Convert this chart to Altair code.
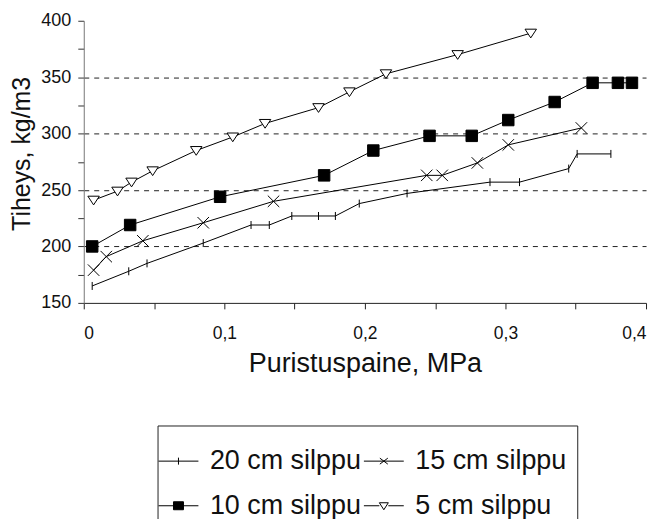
import altair as alt
import pandas as pd

FONT = "Liberation Sans"

series_names = ["20 cm silppu", "15 cm silppu", "10 cm silppu", "5 cm silppu"]

s20_x = [0.006, 0.032, 0.045, 0.085, 0.119, 0.132, 0.148, 0.167, 0.179, 0.196, 0.230, 0.289, 0.310, 0.345, 0.351, 0.375]
s20_y = [165, 178, 185, 203, 219, 219, 227, 227, 227, 238, 247, 257, 257, 269, 282, 282]

s15_x = [0.007, 0.016, 0.042, 0.085, 0.135, 0.244, 0.255, 0.280, 0.302, 0.354]
s15_y = [179, 191, 205, 221, 240, 263, 263, 274, 290, 305]

s10_x = [0.006, 0.033, 0.097, 0.171, 0.206, 0.246, 0.276, 0.302, 0.335, 0.362, 0.380, 0.390]
s10_y = [200, 219, 244, 263, 285, 298, 298, 312, 328, 345, 345, 345]

s5_x = [0.007, 0.024, 0.034, 0.049, 0.080, 0.106, 0.129, 0.167, 0.189, 0.215, 0.266, 0.318]
s5_y = [241, 249, 257, 267, 285, 297, 309, 323, 337, 353, 370, 389]

x_ticks = [0, 0.05, 0.1, 0.15, 0.2, 0.25, 0.3, 0.35, 0.4]
y_ticks = [150, 175, 200, 225, 250, 275, 300, 325, 350, 375, 400]

plot_shapes = [
    "M0,-0.8V0.8",
    "M-1.15,-1.15L1.15,1.15M-1.15,1.15L1.15,-1.15",
    "M-1.15,-1.15H1.15V1.15H-1.15Z",
    "M-1.15,-0.8L1.15,-0.8L0,0.95Z",
]
legend_shapes = [
    "M-4,0H4M0,-0.7V0.7",
    "M-4,0H4M-0.8,-0.6L0.8,0.6M-0.8,0.6L0.8,-0.6",
    "M-4,0H4M-1.0,-0.8H1.0V0.8H-1.0Z",
    "M-4,0H-0.9M0.9,0H4M-0.9,-0.6L0.9,-0.6L0,0.8Z",
]
fills = ["white", "white", "black", "white"]
strokes = ["black", "black", "black", "black"]

rows = []
for name, xs, ys in [
    (series_names[0], s20_x, s20_y),
    (series_names[1], s15_x, s15_y),
    (series_names[2], s10_x, s10_y),
    (series_names[3], s5_x, s5_y),
]:
    for i, (xv, yv) in enumerate(zip(xs, ys)):
        rows.append({"series": name, "p": xv, "d": yv, "order": i})
df = pd.DataFrame(rows)

x_label_expr = (
    "abs(datum.value*10 - round(datum.value*10)) < 0.001 ? "
    "(datum.value == 0 ? '0' : replace(format(datum.value, '.1f'), '.', ',')) : ''"
)

x_enc = alt.X(
    "p:Q",
    scale=alt.Scale(domain=[0, 0.4], nice=False, zero=False),
    title="Puristuspaine, MPa",
    axis=alt.Axis(
        values=x_ticks,
        labelExpr=x_label_expr,
        grid=False,
        domainColor="#222222",
        tickColor="#222222",
        tickSize=6,
        labelPadding=16,
        labelFont=FONT,
        labelFontSize=17.5,
        labelColor="#111111",
        labelOverlap=False,
        titleFont=FONT,
        titleFontSize=27,
        titleFontWeight="normal",
        titleColor="#111111",
        titlePadding=8,
    ),
)

y_enc = alt.Y(
    "d:Q",
    scale=alt.Scale(domain=[150, 400], nice=False, zero=False),
    title="Tiheys, kg/m3",
    axis=alt.Axis(
        values=y_ticks,
        labelExpr="datum.value % 50 == 0 ? datum.label : ''",
        grid=True,
        gridColor="#222222",
        gridDash=[5, 5],
        gridWidth=1,
        gridOpacity={
            "condition": {"test": "datum.value % 50 == 0 && datum.value > 150 && datum.value < 400", "value": 1},
            "value": 0,
        },
        domainColor="#777777",
        tickColor="#333333",
        tickSize=6,
        labelPadding=7,
        labelFont=FONT,
        labelFontSize=18,
        labelColor="#111111",
        labelOverlap=False,
        titleFont=FONT,
        titleFontSize=25,
        titleFontWeight="normal",
        titleColor="#111111",
        titleX=-49,
        titleY=133,
        titleBaseline="bottom",
    ),
)

lines = alt.Chart(df).mark_line(color="black", strokeWidth=1).encode(
    x=x_enc, y=y_enc, detail="series:N", order="order:Q"
)

points = alt.Chart(df).mark_point(
    opacity=1, stroke="black", strokeWidth=1, size=100
).encode(
    x=x_enc,
    y=y_enc,
    shape=alt.Shape("series:N", scale=alt.Scale(domain=series_names, range=plot_shapes), legend=None),
    fill=alt.Fill("series:N", scale=alt.Scale(domain=series_names, range=fills), legend=None),
)

legend_def = alt.Legend(
    title=" ",
    titleFontSize=6,
    titlePadding=6,
    orient="none",
    direction="horizontal",
    legendX=74,
    legendY=406,
    columns=2,
    strokeColor="#222222",
    padding=10,
    labelFont=FONT,
    labelFontSize=27,
    labelColor="#111111",
    symbolSize=100,
    symbolStrokeColor="black",
    symbolStrokeWidth=1,
    symbolOffset=-2.5,
    labelOffset=18,
    columnPadding=0,
    rowPadding=17,
)

legend_layer = alt.Chart(df).transform_filter("datum.d < 0").mark_point(
    opacity=1, strokeWidth=1, size=100
).encode(
    x=x_enc,
    y=y_enc,
    shape=alt.Shape("series:N", scale=alt.Scale(domain=series_names, range=legend_shapes), legend=legend_def),
    fill=alt.Fill("series:N", scale=alt.Scale(domain=series_names, range=fills), legend=legend_def),
    stroke=alt.Stroke("series:N", scale=alt.Scale(domain=series_names, range=strokes), legend=legend_def),
)

chart = (
    alt.layer(lines, points, legend_layer)
    .resolve_scale(shape="independent", fill="independent", stroke="independent")
    .properties(
        width=564,
        height=283,
        autosize="none",
        padding={"left": 76, "top": 12, "right": 8, "bottom": 216},
        background="white",
    )
    .configure_view(stroke=None)
)

chart.save("out.html", embed_options={"renderer": "svg", "actions": False})
